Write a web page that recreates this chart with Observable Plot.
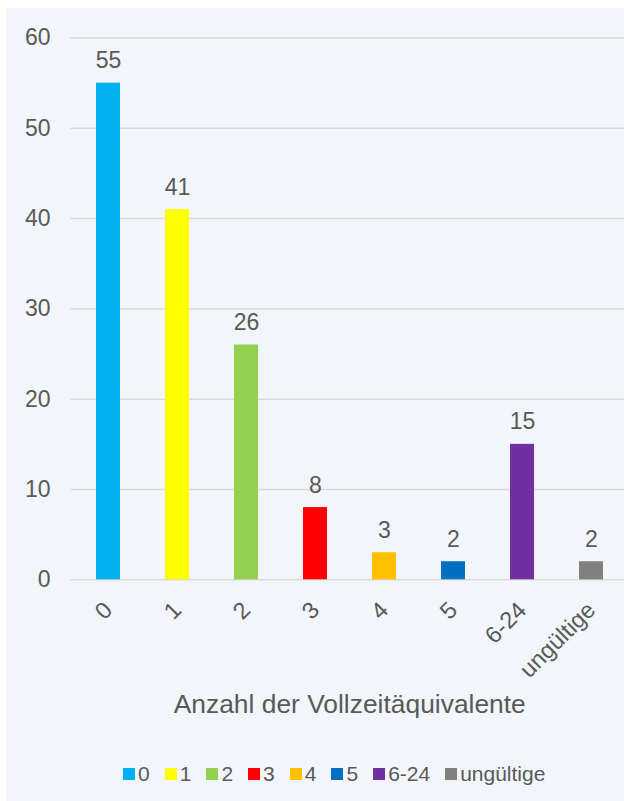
<!DOCTYPE html>
<html>
<head>
<meta charset="utf-8">
<script src="https://cdn.jsdelivr.net/npm/d3@7"></script>
<script src="https://cdn.jsdelivr.net/npm/@observablehq/plot@0.6"></script>
<style>
  html, body { margin: 0; padding: 0; background: #ffffff; }
  #wrap { position: relative; width: 624px; height: 801px; background: #ffffff; overflow: hidden; }
  #panel { position: absolute; left: 6px; top: 8px; right: 0; bottom: 0; background: #f2f6fa; }
  #chart { position: absolute; left: 0; top: 0; }
  #legend { position: absolute; left: 123px; top: 762px; }
  .lg-swatches { font-family: "Liberation Sans", Arial, sans-serif; font-size: 21px; color: #595959; margin: 0; min-height: 0; }
  .lg-swatches-wrap { min-height: 0; }
  .lg-swatch { margin-right: 15px; }
  .lg-swatch > svg { margin-right: 3px; }
</style>
</head>
<body>
<div id="wrap">
  <div id="panel"></div>
  <div id="chart"></div>
  <div id="legend"></div>
</div>
<script>
const categories = ["0", "1", "2", "3", "4", "5", "6-24", "ungültige"];
const counts = [55, 41, 26, 8, 3, 2, 15, 2];
const barColors = ["#00b0f0", "#ffff00", "#92d050", "#ff0000", "#ffc000", "#0070c0", "#7030a0", "#808080"];
const yTicks = [0, 10, 20, 30, 40, 50, 60];
const xTitle = "Anzahl der Vollzeitäquivalente";

const data = categories.map((c, i) => ({cat: c, n: counts[i]}));

const H = 730;
const chart = Plot.plot({
  width: 624,
  height: H,
  marginLeft: 70.5,
  marginRight: 0,
  marginTop: 37.5,
  marginBottom: H - 579.3,
  style: {background: "transparent", fontFamily: "'Liberation Sans', Arial, sans-serif", fontSize: "23px", color: "#595959"},
  x: {type: "band", domain: categories, range: [70.5, 628.5], paddingInner: 0.656, paddingOuter: 0.328, axis: null},
  y: {domain: [0, 60], range: [579.3, 37.5]},
  color: {domain: categories, range: barColors},
  marks: [
    Plot.ruleY(yTicks, {stroke: "#d9d9d9", strokeWidth: 1.5}),
    Plot.axisY({ticks: yTicks, tickSize: 0, tickPadding: 20.5, fontSize: 23, fill: "#595959", label: null}),
    Plot.barY(data, {x: "cat", y: "n", fill: "cat"}),
    Plot.text(data, {x: "cat", y: "n", text: d => String(d.n), lineAnchor: "bottom", dy: -15, fontSize: 23, fill: "#595959"}),
    Plot.text(categories, {x: d => d, text: d => d, frameAnchor: "bottom", rotate: -45, textAnchor: "end", lineAnchor: "middle", dx: 0, dy: 26.5, fontSize: 23.5, fill: "#595959"}),
    Plot.text([xTitle], {text: d => d, frameAnchor: "bottom", dx: 2, dy: 132.7, lineAnchor: "bottom", fontSize: 26.4, fill: "#595959"})
  ]
});
document.getElementById("chart").appendChild(chart);

const legend = Plot.legend({color: {domain: categories, range: barColors}, swatchSize: 12, className: "lg"});
document.getElementById("legend").appendChild(legend);
</script>
</body>
</html>
